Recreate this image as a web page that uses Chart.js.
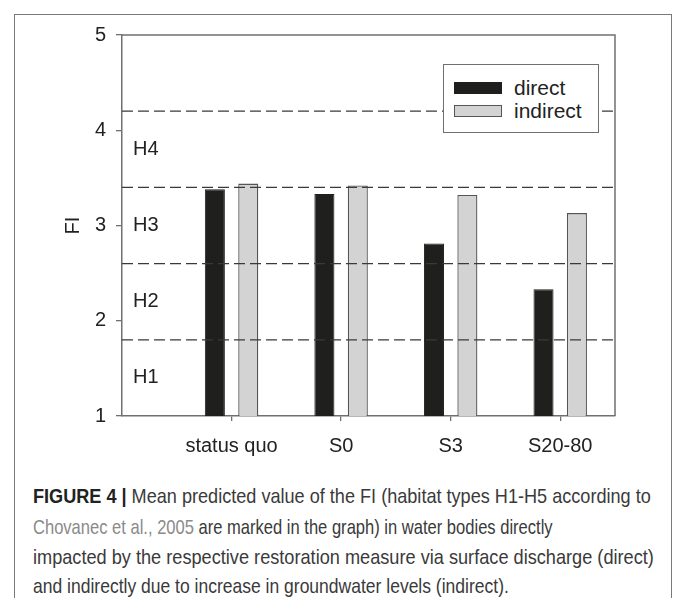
<!DOCTYPE html>
<html>
<head>
<meta charset="utf-8">
<script src="https://cdn.jsdelivr.net/npm/chart.js@4.4.0/dist/chart.umd.min.js"></script>
<style>
  body { margin:0; width:673px; height:598px; overflow:hidden; background:#fff; font-family:"Liberation Sans", Arial, sans-serif; }
  .marco { position:absolute; left:14px; top:14px; width:656px; height:640px; border:1.5px solid #7a7a7a; border-bottom:none; }
  #myChart { position:absolute; left:0; top:0; }
  .leyenda { position:absolute; left:443px; top:64px; width:154px; height:67px; border:1.5px solid #707070; background:#fff; }
  .item { position:absolute; left:10px; height:24px; display:flex; align-items:center; font-size:21px; color:#222; }
  .muestra { width:48px; height:12px; margin-right:12px; box-sizing:border-box; }
  .linea { position:absolute; left:33px; white-space:nowrap; font-size:21px; line-height:24px; color:#3a3a3a; transform-origin:0 50%;
           font-family:"Liberation Sans",Arial,sans-serif; }
  .linea b { color:#222; }
  .cita { color:#8a8a8a; }
</style>
</head>
<body>
<div class="marco"></div>
<canvas id="myChart" width="673" height="470"></canvas>
<div class="leyenda" id="leyenda"></div>

<div class="linea" style="top:484px" data-ancho="618"><b>FIGURE 4 |</b> Mean predicted value of the FI (habitat types H1-H5 according to</div>
<div class="linea" style="top:515px" data-ancho="520"><span class="cita">Chovanec et al., 2005</span> are marked in the graph) in water bodies directly</div>
<div class="linea" style="top:545px" data-ancho="621">impacted by the respective restoration measure via surface discharge (direct)</div>
<div class="linea" style="top:574px" data-ancho="476">and indirectly due to increase in groundwater levels (indirect).</div>

<script>
const categorias = ["status quo", "S0", "S3", "S20-80"];
const directo = [3.38, 3.33, 2.81, 2.33];
const indirecto = [3.44, 3.42, 3.32, 3.13];
const limitesHabitat = [1.8, 2.6, 3.4, 4.2];
const etiquetasHabitat = ["H1", "H2", "H3", "H4"];
const posicionHabitat = [1.4, 2.2, 3.0, 3.8];
const ticksY = [1, 2, 3, 4, 5];

const xMin = 0;
const xMax = 4.5;
const gris = "#707070";

function puntos(valores) {
  return categorias.map((c, i) => ({ x: i + 1, y: valores[i] }));
}

const lineasHabitat = limitesHabitat.map(v => ({
  type: "line",
  label: "",
  data: [{ x: xMin, y: v }, { x: xMax, y: v }],
  borderColor: "#3a3a3a",
  borderWidth: 1.3,
  borderDash: [11, 5],
  pointRadius: 0,
  order: 0
}));

const marcoYEtiquetas = {
  id: "marcoYEtiquetas",
  afterDatasetsDraw(chart) {
    const ctx = chart.ctx;
    const area = chart.chartArea;
    const y = chart.scales.y;
    ctx.save();
    ctx.strokeStyle = gris;
    ctx.lineWidth = 1.5;
    ctx.beginPath();
    ctx.moveTo(area.left, area.top);
    ctx.lineTo(area.right, area.top);
    ctx.lineTo(area.right, area.bottom);
    ctx.stroke();

    ctx.fillStyle = "#222";
    ctx.font = "20px 'Liberation Sans', Arial, sans-serif";
    ctx.textAlign = "left";
    ctx.textBaseline = "middle";
    etiquetasHabitat.forEach((t, i) => {
      ctx.fillText(t, area.left + 11, y.getPixelForValue(posicionHabitat[i]));
    });

    ctx.translate(73, y.getPixelForValue(3));
    ctx.rotate(-Math.PI / 2);
    ctx.textAlign = "center";
    ctx.fillText("FI", 0, 0);
    ctx.restore();
  }
};

const ctx = document.getElementById("myChart");

const myChart = new Chart(ctx, {
  type: "bar",
  data: {
    datasets: [
      {
        label: "direct",
        data: puntos(directo),
        backgroundColor: "#1f1f1d",
        borderColor: "#1f1f1d",
        borderWidth: 1,
        categoryPercentage: 0.61,
        barPercentage: 0.6,
        order: 1
      },
      {
        label: "indirect",
        data: puntos(indirecto),
        backgroundColor: "#d3d3d3",
        borderColor: "#555555",
        borderWidth: 1.3,
        categoryPercentage: 0.61,
        barPercentage: 0.6,
        order: 1
      },
      ...lineasHabitat
    ]
  },
  options: {
    responsive: false,
    animation: false,
    layout: { padding: { top: 35, right: 58, left: 0, bottom: 0 } },
    plugins: { legend: { display: false }, tooltip: { enabled: false } },
    scales: {
      x: {
        type: "linear",
        offset: false,
        min: xMin,
        max: xMax,
        afterBuildTicks: s => { s.ticks = categorias.map((c, i) => ({ value: i + 1 })); },
        afterFit: s => { s.height = 54; },
        ticks: {
          callback: v => categorias[v - 1],
          autoSkip: false,
          maxRotation: 0,
          padding: 13,
          color: "#222",
          font: { family: "'Liberation Sans', Arial, sans-serif", size: 20 }
        },
        grid: { drawOnChartArea: false, offset: false, tickLength: 5, color: gris, lineWidth: 1.3 },
        border: { color: gris, width: 1.5 }
      },
      y: {
        min: 1,
        max: 5,
        afterBuildTicks: s => { s.ticks = ticksY.map(v => ({ value: v })); },
        afterFit: s => { s.width = 122; },
        ticks: {
          padding: 10,
          color: "#222",
          font: { family: "'Liberation Sans', Arial, sans-serif", size: 20 }
        },
        grid: { drawOnChartArea: false, tickLength: 6, color: gris, lineWidth: 1.3 },
        border: { color: gris, width: 1.5 }
      }
    }
  },
  plugins: [marcoYEtiquetas]
});

// leyenda en html, con los colores de las barras
const leyenda = document.getElementById("leyenda");
myChart.data.datasets.filter(d => d.label).forEach((d, i) => {
  const item = document.createElement("div");
  item.className = "item";
  item.style.top = (11 + i * 23) + "px";
  const muestra = document.createElement("div");
  muestra.className = "muestra";
  muestra.style.background = d.backgroundColor;
  muestra.style.border = "1px solid " + d.borderColor;
  item.appendChild(muestra);
  item.appendChild(document.createTextNode(d.label));
  leyenda.appendChild(item);
});

// ajustar cada linea del pie al ancho del original
document.querySelectorAll(".linea").forEach(l => {
  const escala = Number(l.dataset.ancho) / l.offsetWidth;
  l.style.transform = "scaleX(" + escala + ")";
});
</script>
</body>
</html>
